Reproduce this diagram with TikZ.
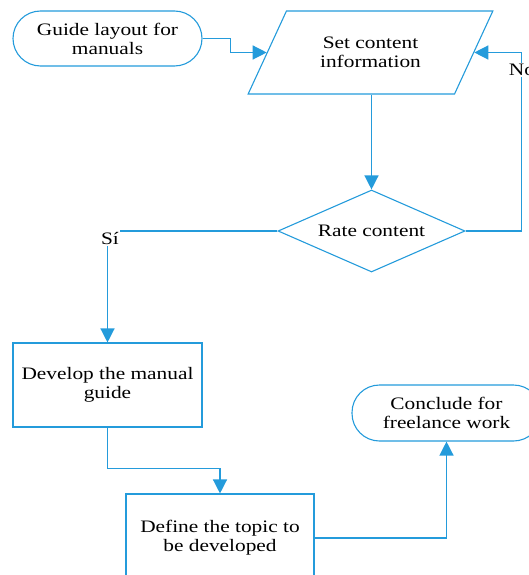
\documentclass[tikz,border=0pt]{standalone}
\usepackage{fontspec}
\setmainfont{Liberation Serif}[FakeStretch=1.22]
\usetikzlibrary{arrows.meta,shapes.geometric}
\definecolor{fblue}{RGB}{36,155,219}
\begin{document}
\begin{tikzpicture}[x=1pt,y=-1pt,
  every node/.style={font=\fontsize{17.5}{19}\selectfont, text=black},
  box/.style={draw=fblue, line width=1.1pt, align=center, inner sep=2pt},
  term/.style={box, rectangle, rounded corners=27.5pt, minimum width=189pt, minimum height=55pt},
  proc/.style={box, rectangle, minimum width=189pt},
  io/.style={box, trapezium, trapezium left angle=55.5, trapezium right angle=124.5, trapezium stretches=true, minimum width=245pt, minimum height=83pt},
  decide/.style={box, diamond, aspect=2.3, minimum width=187pt, minimum height=82pt, inner sep=0pt},
  arr/.style={draw=fblue, line width=1.3pt, -{Triangle[width=14pt,length=14pt]}},
  lbl/.style={fill=white, inner sep=1.5pt}]
\useasboundingbox (0,0) rectangle (529,575);
\node[term] (guide) at (107.5,38.5) {Guide layout for\\manuals};
\node[io] (set) at (370.5,52.5) {Set content\\information};
\node[decide] (dia) at (371.5,231) {Rate content};
\node[proc, minimum height=84pt] (dev) at (107.5,385) {Develop the manual\\guide};
\node[proc, minimum height=88pt, minimum width=188pt] (def) at (220,538) {Define the topic to\\be developed};
\node[term, minimum height=56pt] (conc) at (446.5,413) {Conclude for\\freelance work};
\draw[arr] (guide.east) -- ++(28,0) |- (set.west);
\draw[arr] (set.south -| dia.north) -- (dia.north);
\draw[arr] (dia.east) -- ++(56,0) |- (set.east);
\draw[arr] (dia.west) -| (dev.north);
\draw[arr] (dev.south) -- ++(0,41) -| (def.north);
\draw[arr] (def.east) -| (conc.south);
\node[lbl] (si) at (110,238) {Sí};
\node[lbl] (no) at (522,70) {No};
\end{tikzpicture}
\end{document}
